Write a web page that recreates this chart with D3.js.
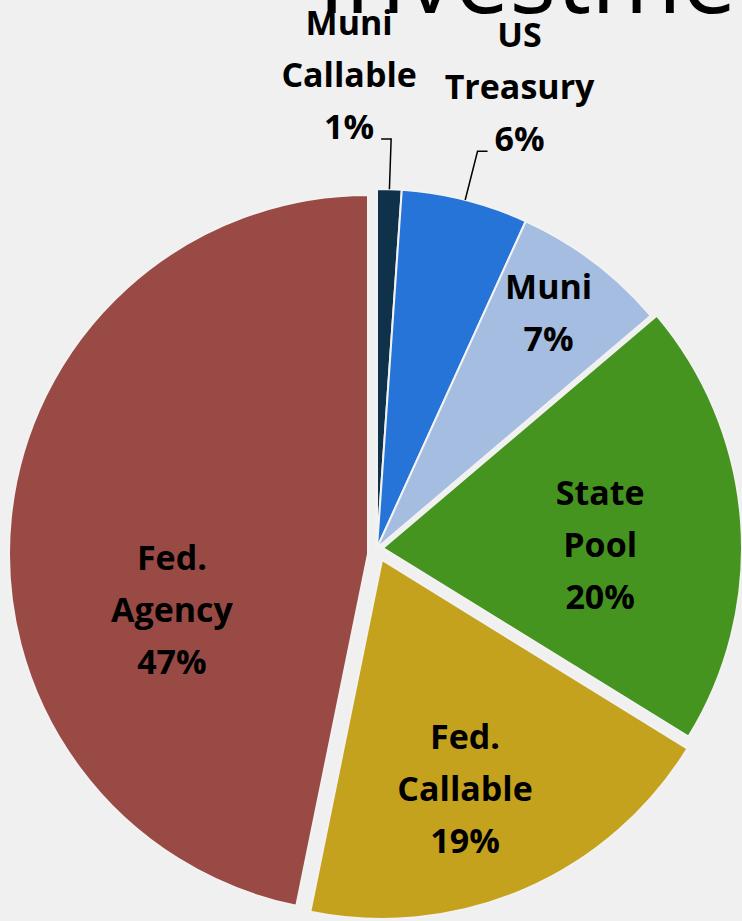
<!DOCTYPE html>
<html>
<head>
<meta charset="utf-8">
<script src="https://cdn.jsdelivr.net/npm/d3@7"></script>
<style>
  html, body { margin: 0; padding: 0; background: #f0f0f0; overflow: hidden; }
</style>
</head>
<body>
<script>
// Chart data
const categories = ["Muni Callable", "US Treasury", "Muni", "State Pool", "Fed. Callable", "Fed. Agency"];
const shares = [1.1, 5.7, 7.0, 20.0, 19.4, 46.8];
const percentLabels = ["1%", "6%", "7%", "20%", "19%", "47%"];
const nameLines = [["Muni", "Callable"], ["US", "Treasury"], ["Muni"], ["State", "Pool"], ["Fed.", "Callable"], ["Fed.", "Agency"]];
const sliceColors = ["#0f3149", "#2774d8", "#a5bde0", "#45941f", "#c5a21e", "#994a45"];

// Layout (pixels / degrees)
const canvWidth = 742, canvHeight = 921;
const cx = 377, cy = 548, radius = 359;
// how far each slice is pulled out of the pie, [dx, dy]
const pullOut = [[0, 0], [0, 0], [0, 0], [6, 0], [5, 12], [-9, 6]];
// label placement: outside labels use a leader line, inside ones a polar spot
const labelPlace = [
    {outside: true, side: -1},
    {outside: true, side: 1},
    {r: 0.81, da: -0.9},
    {r: 0.605, da: 3.6},
    {r: 0.68, da: 3.5},
    {r: 0.568, da: -21.7}
];
const lineHeight = 52;
const labelFont = "'Open Sans', sans-serif";

const svg = d3.select("body").append("svg")
    .attr("width", canvWidth)
    .attr("height", canvHeight)
    .style("display", "block");

svg.append("rect")
    .attr("width", canvWidth)
    .attr("height", canvHeight)
    .attr("fill", "#f0f0f0");

// Title, mostly cut off by the top edge
svg.append("text")
    .attr("x", 318)
    .attr("y", 13)
    .attr("font-family", labelFont)
    .attr("font-size", "98px")
    .attr("fill", "#000")
    .text("Investments");

const pie = d3.pie().sort(null).value(d => d);
const arcs = pie(shares);
const arc = d3.arc().innerRadius(0).outerRadius(radius);

const toRad = d => d * Math.PI / 180;
const polar = (a, r) => [r * Math.sin(a), -r * Math.cos(a)];

const pieGroup = svg.append("g")
    .attr("transform", "translate(" + cx + "," + cy + ")");

// slices
pieGroup.selectAll("path.slice")
    .data(arcs)
    .enter().append("path")
    .attr("class", "slice")
    .attr("d", arc)
    .attr("transform", (d, i) => "translate(" + pullOut[i][0] + "," + pullOut[i][1] + ")")
    .attr("fill", (d, i) => sliceColors[i])
    .attr("stroke", "#f2f2f2")
    .attr("stroke-width", 2)
    .attr("stroke-linejoin", "round");

// labels
arcs.forEach(function(d, i) {
    const mid = (d.startAngle + d.endAngle) / 2;
    const place = labelPlace[i];
    const off = pullOut[i];
    const lines = nameLines[i].concat([percentLabels[i]]);
    const n = lines.length;
    let bx, by;

    if (place.outside) {
        const rim = polar(mid, radius);
        const start = [rim[0] + off[0], rim[1] + off[1]];
        const elbow = polar(mid, radius * 1.14);
        const end = [elbow[0] + place.side * 10, elbow[1]];
        pieGroup.append("path")
            .attr("d", d3.line()([start, elbow, end]))
            .attr("fill", "none")
            .attr("stroke", "#000")
            .attr("stroke-width", 1.5);
        // last line sits on the leader's horizontal
        bx = elbow[0] + place.side * 42;
        by = elbow[1] - 12 - (n - 1) / 2 * lineHeight;
    } else {
        const p = polar(mid + toRad(place.da), radius * place.r);
        bx = p[0] + off[0];
        by = p[1] + off[1];
    }

    const t = pieGroup.append("text")
        .attr("font-family", labelFont)
        .attr("font-weight", "bold")
        .attr("font-size", "34px")
        .attr("fill", "#000")
        .style("text-anchor", "middle");
    lines.forEach(function(s, j) {
        t.append("tspan")
            .attr("x", bx)
            .attr("y", by + (j - (n - 1) / 2) * lineHeight)
            .attr("dy", "0.35em")
            .text(s);
    });
});
</script>
</body>
</html>
